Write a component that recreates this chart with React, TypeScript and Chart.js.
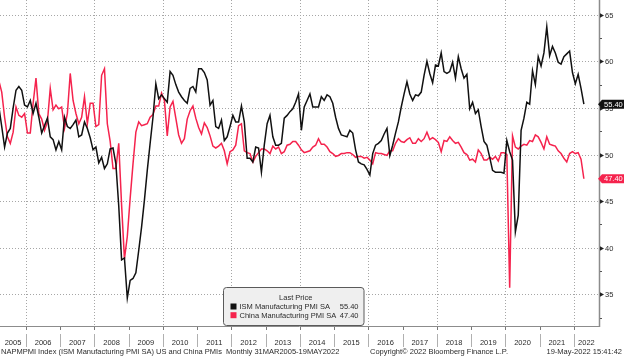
import React, { useEffect, useRef } from "react";
import { Chart, registerables } from "chart.js";

Chart.register(...registerables);

// ---- data -------------------------------------------------------------
const START_YEAR = 2005;
const START_MONTH = 3; // first observation: March 2005

const yearLabels = ["2005","2006","2007","2008","2009","2010","2011","2012","2013","2014","2015","2016","2017","2018","2019","2020","2021","2022"];
const yTickValues = [35, 40, 45, 50, 55, 60, 65];

const ismName = "ISM Manufacturing PMI SA";
const chinaName = "China Manufacturing PMI SA";

const ismValues = [
  55.1, 53.0, 50.8, 52.3, 52.8, 55.0, 56.9, 57.3, 56.9, 55.3,
  55.1, 55.8, 54.4, 55.5, 54.0, 52.3, 53.1, 53.9, 51.9, 51.6, 50.5, 51.4,
  50.5, 54.0, 53.0, 52.8, 53.2, 53.7, 51.9, 52.1, 53.5, 52.8, 51.8, 50.5,
  50.8, 49.1, 49.7, 48.5, 49.0, 50.6, 50.7, 49.0, 44.5, 38.7, 38.9, 34.6,
  36.5, 36.7, 37.3, 39.7, 42.2, 45.1, 48.3, 51.2, 54.0, 57.6, 56.0, 56.4,
  56.0, 55.6, 58.9, 58.5, 57.5, 56.7, 56.2, 55.8, 55.5, 57.1, 57.3, 56.7,
  59.2, 59.2, 58.8, 58.0, 55.3, 55.8, 53.0, 52.8, 53.7, 51.5, 51.9, 53.0,
  54.2, 53.5, 53.5, 55.2, 53.5, 49.6, 49.6, 49.2, 50.8, 50.7, 48.1, 51.0,
  53.3, 54.2, 51.9, 51.0, 51.0, 51.2, 53.9, 54.2, 54.6, 54.9, 55.6, 56.5,
  52.6, 55.1, 55.8, 56.5, 55.1, 55.1, 55.1, 56.2, 55.8, 56.4, 56.2, 55.5,
  54.0, 52.8, 52.1, 52.0, 51.9, 52.6, 52.3, 50.5, 49.2, 49.0, 48.9, 48.4,
  47.8, 50.1, 51.0, 51.2, 51.5, 52.2, 52.8, 49.9, 51.0, 52.3, 53.5, 55.1,
  56.5, 57.8, 56.5, 55.8, 56.4, 56.3, 56.7, 58.5, 60.0, 58.7, 57.7, 59.6,
  59.5, 60.9, 58.9, 58.7, 58.9, 59.9, 58.2, 60.5, 59.2, 58.2, 58.6, 54.9,
  55.6, 54.4, 54.8, 53.0, 51.4, 51.0, 49.7, 48.3, 48.1, 48.1, 48.1, 48.0,
  51.5, 50.3, 49.4, 41.7, 43.5, 52.6, 53.9, 55.6, 55.4, 59.0, 57.5, 60.5,
  59.5, 60.9, 63.7, 60.6, 61.6, 60.9, 59.9, 59.7, 60.5, 60.8, 61.1, 58.8,
  57.6, 58.6, 57.1, 55.4,
];

const chinaValues = [
  57.9, 56.7, 54.0, 51.9, 51.2, 52.4, 55.1, 54.2, 54.0, 54.4,
  52.3, 52.3, 55.5, 58.2, 54.4, 53.8, 52.6, 53.5, 57.1, 54.8, 55.3, 54.9,
  55.1, 52.8, 54.4, 58.7, 55.8, 54.4, 53.3, 54.0, 56.2, 53.3, 55.5, 55.5,
  53.0, 53.2, 58.5, 59.2, 53.3, 51.4, 48.5, 48.5, 51.2, 44.6, 38.8, 41.2,
  45.3, 49.0, 52.4, 53.5, 53.1, 53.2, 53.3, 54.0, 54.3, 55.2, 55.2, 56.6,
  55.8, 52.0, 55.1, 55.7, 53.9, 52.1, 51.2, 51.7, 53.8, 54.7, 55.2, 53.9,
  52.9, 52.2, 53.4, 52.9, 52.0, 50.9, 50.7, 50.9, 51.2, 50.4, 49.0, 50.3,
  50.5, 51.0, 53.1, 53.3, 50.4, 50.2, 50.1, 49.2, 49.8, 50.2, 50.6, 50.6,
  50.4, 50.1, 50.9, 50.6, 50.8, 50.1, 50.3, 51.0, 51.1, 51.4, 51.4, 51.0,
  50.5, 50.2, 50.3, 50.4, 50.8, 51.0, 51.7, 51.1, 51.1, 50.8, 50.3, 50.1,
  49.8, 49.9, 50.1, 50.1, 50.2, 50.2, 50.0, 49.7, 49.8, 49.8, 49.6, 49.7,
  49.4, 49.0, 50.2, 50.1, 50.1, 50.0, 49.9, 50.4, 50.4, 51.2, 51.7, 51.4,
  51.3, 51.6, 51.8, 51.2, 51.2, 51.7, 51.4, 51.7, 52.4, 51.6, 51.8, 51.6,
  51.3, 50.3, 51.5, 51.4, 51.9, 51.5, 51.2, 51.3, 50.8, 50.2, 50.0, 49.4,
  49.5, 49.2, 50.5, 50.1, 49.4, 49.4, 49.7, 49.5, 49.8, 49.3, 50.2, 50.2,
  50.0, 35.7, 52.0, 50.8, 50.6, 50.9, 51.1, 51.0, 51.5, 51.4, 52.1, 51.9,
  51.3, 50.6, 51.9, 51.1, 51.0, 50.9, 50.4, 50.1, 49.6, 49.2, 50.1, 50.3,
  50.1, 50.2, 49.5, 47.4,
];

const legendTitle = "Last Price";
const footerLeft = "NAPMPMI Index (ISM Manufacturing PMI SA) US and China PMIs  Monthly 31MAR2005-19MAY2022";
const footerMid = "Copyright\u00A9 2022 Bloomberg Finance L.P.";
const footerRight = "19-May-2022 15:41:42";

// ---- styling ----------------------------------------------------------
const BLACK = "#111111";
const RED = "#f5234d";
const GRID = "#a6a6a6";
const AXIS = "#8c8c8c";
const TEXT = "#2b2b2b";
const FONT = '7.5px "Liberation Sans", Arial, sans-serif';

// x in months since Jan 2005 (mid-month placement)
const monthX = (i: number) => START_MONTH - 1 + i + 0.5;
const X_MIN = 2.89;
const X_MAX = 212.8;
const Y_MIN = 31.6;
const Y_MAX = 66.58;

const fmt = (v: number) => v.toFixed(2);

const overlay = {
  id: "bbgOverlay",
  beforeDatasetsDraw(chart: any) {
    const { ctx, chartArea: a, scales } = chart;
    const xs = scales.x, ys = scales.y;
    ctx.save();
    ctx.strokeStyle = GRID;
    ctx.lineWidth = 1;
    ctx.setLineDash([1, 2]);
    for (const v of yTickValues) {
      const py = Math.round(ys.getPixelForValue(v)) + 0.5;
      ctx.beginPath(); ctx.moveTo(a.left, py); ctx.lineTo(a.right, py); ctx.stroke();
    }
    for (let k = 1; k < yearLabels.length; k += 2) {
      const px = Math.round(xs.getPixelForValue(k * 12)) + 0.5;
      ctx.beginPath(); ctx.moveTo(px, a.top); ctx.lineTo(px, a.bottom); ctx.stroke();
    }
    ctx.restore();
  },
  afterDraw(chart: any) {
    const { ctx, chartArea: a, scales, width } = chart;
    const xs = scales.x, ys = scales.y;
    ctx.save();
    ctx.font = FONT;

    // axes
    ctx.strokeStyle = AXIS;
    ctx.lineWidth = 1.5;
    ctx.beginPath(); ctx.moveTo(a.right + 0.5, 0); ctx.lineTo(a.right + 0.5, a.bottom + 1); ctx.stroke();
    ctx.lineWidth = 1;
    ctx.beginPath(); ctx.moveTo(a.left, a.bottom + 0.5); ctx.lineTo(a.right, a.bottom + 0.5); ctx.stroke();

    // y minor ticks
    ctx.strokeStyle = "#555";
    for (let v = 32.5; v <= 66; v += 2.5) {
      if (v % 5 === 0) continue;
      const py = Math.round(ys.getPixelForValue(v)) + 0.5;
      ctx.beginPath(); ctx.moveTo(a.right + 1, py); ctx.lineTo(a.right + 3, py); ctx.stroke();
    }
    // y major ticks + labels
    ctx.fillStyle = TEXT;
    ctx.textBaseline = "middle";
    ctx.textAlign = "left";
    for (const v of yTickValues) {
      const py = Math.round(ys.getPixelForValue(v)) + 0.5;
      ctx.fillStyle = "#222";
      ctx.beginPath();
      ctx.moveTo(a.right + 1, py - 2.2);
      ctx.lineTo(a.right + 5, py);
      ctx.lineTo(a.right + 1, py + 2.2);
      ctx.closePath(); ctx.fill();
      ctx.fillStyle = TEXT;
      ctx.fillText(String(v), a.right + 6, py + 0.5);
    }

    // x ticks, separators and year labels
    ctx.strokeStyle = "#777";
    for (let k = 1; k < yearLabels.length; k++) {
      const px = Math.round(xs.getPixelForValue(k * 12)) + 0.5;
      ctx.beginPath(); ctx.moveTo(px, a.bottom + 1); ctx.lineTo(px, a.bottom + 4); ctx.stroke();
      ctx.strokeStyle = "#b0b0b0";
      ctx.beginPath(); ctx.moveTo(px, a.bottom + 8); ctx.lineTo(px, a.bottom + 21); ctx.stroke();
      ctx.strokeStyle = "#777";
    }
    ctx.textAlign = "center";
    ctx.fillStyle = TEXT;
    yearLabels.forEach((lab, k) => {
      const s = Math.max(X_MIN, k * 12);
      const e = Math.min(X_MAX, (k + 1) * 12);
      const px = (xs.getPixelForValue(s) + xs.getPixelForValue(e)) / 2;
      ctx.fillText(lab, px, a.bottom + 16.5);
    });

    // footer
    ctx.textAlign = "left";
    ctx.fillText(footerLeft, 1, a.bottom + 25.5);
    ctx.fillText(footerMid, 370, a.bottom + 25.5);
    ctx.textAlign = "right";
    ctx.fillText(footerRight, width - 2, a.bottom + 25.5);

    // last-price tags
    const tag = (v: number, color: string) => {
      const py = ys.getPixelForValue(v);
      ctx.fillStyle = color;
      ctx.beginPath();
      ctx.moveTo(a.right - 1, py);
      ctx.lineTo(a.right + 3, py - 4.5);
      ctx.lineTo(width, py - 4.5);
      ctx.lineTo(width, py + 4.5);
      ctx.lineTo(a.right + 3, py + 4.5);
      ctx.closePath(); ctx.fill();
      ctx.fillStyle = "#ffffff";
      ctx.textAlign = "left";
      ctx.textBaseline = "middle";
      ctx.fillText(fmt(v), a.right + 5, py + 0.5);
    };
    tag(ismValues[ismValues.length - 1], BLACK);
    tag(chinaValues[chinaValues.length - 1], RED);

    // legend box
    const bx = 223.5, by = 287.5, bw = 140.5, bh = 38;
    ctx.fillStyle = "#efefef";
    ctx.strokeStyle = "#5a5a5a";
    ctx.lineWidth = 1;
    ctx.beginPath();
    if ((ctx as any).roundRect) (ctx as any).roundRect(bx, by, bw, bh, 3); else ctx.rect(bx, by, bw, bh);
    ctx.fill(); ctx.stroke();
    ctx.fillStyle = TEXT;
    ctx.textAlign = "center";
    ctx.textBaseline = "middle";
    ctx.fillText(legendTitle, bx + bw / 2 + 2, by + 10.5);
    const rows: [string, number, string][] = [
      [ismName, ismValues[ismValues.length - 1], BLACK],
      [chinaName, chinaValues[chinaValues.length - 1], RED],
    ];
    rows.forEach(([name, v, c], r) => {
      const ry = by + 19 + r * 8.7;
      ctx.fillStyle = c;
      ctx.fillRect(bx + 7, ry - 3, 6, 6);
      ctx.fillStyle = TEXT;
      ctx.textAlign = "left";
      ctx.fillText(name, bx + 16, ry + 0.5);
      ctx.textAlign = "right";
      ctx.fillText(fmt(v), bx + bw - 5.5, ry + 0.5);
    });

    ctx.restore();
  },
};

export default function App() {
  const ref = useRef<HTMLCanvasElement | null>(null);
  useEffect(() => {
    if (!ref.current) return;
    const chart = new Chart(ref.current, {
      type: "line",
      data: {
        datasets: [
          {
            label: ismName,
            data: ismValues.map((v, i) => ({ x: monthX(i), y: v })),
            borderColor: BLACK,
            borderWidth: 1.5,
            pointRadius: 0,
            tension: 0,
          },
          {
            label: chinaName,
            data: chinaValues.map((v, i) => ({ x: monthX(i), y: v })),
            borderColor: RED,
            borderWidth: 1.5,
            pointRadius: 0,
            tension: 0,
          },
        ],
      },
      options: {
        animation: false,
        responsive: false,
        devicePixelRatio: 1,
        events: [],
        layout: { padding: { left: 0, top: 0, right: 25, bottom: 30 } },
        scales: {
          x: { type: "linear", min: X_MIN, max: X_MAX, display: false },
          y: { type: "linear", min: Y_MIN, max: Y_MAX, display: false },
        },
        plugins: { legend: { display: false }, tooltip: { enabled: false } },
      },
      plugins: [overlay],
    } as any);
    return () => chart.destroy();
  }, []);
  return (
    <div style={{ position: "absolute", left: 0, top: 0, width: 624, height: 356, background: "#ffffff" }}>
      <canvas ref={ref} width={624} height={356} style={{ display: "block" }} />
    </div>
  );
}
